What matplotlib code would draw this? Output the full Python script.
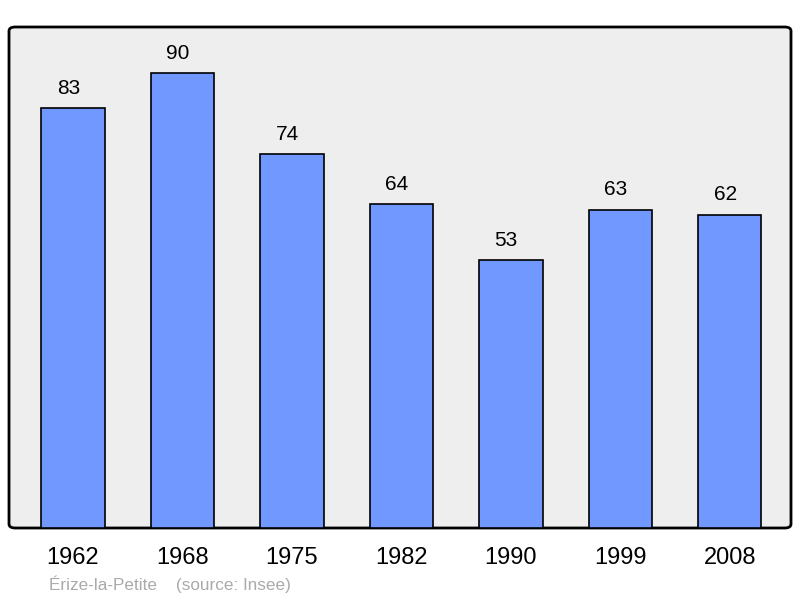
import matplotlib
matplotlib.use("Agg")
import matplotlib.pyplot as plt
from matplotlib.patches import FancyBboxPatch

years = ["1962", "1968", "1975", "1982", "1990", "1999", "2008"]
population = [83, 90, 74, 64, 53, 63, 62]

plt.rcParams["font.family"] = ["Liberation Sans", "DejaVu Sans"]

fig = plt.figure(figsize=(8, 5.98), dpi=100)
ax = fig.add_axes([9 / 800, 1 - 528 / 598, 782 / 800, 501 / 598])
ax.set_facecolor("none")

# rounded frame behind the bars
frame = FancyBboxPatch((0, 0), 1, 1,
                       boxstyle="round,pad=0,rounding_size=0.008",
                       transform=ax.transAxes, facecolor="#eeeeee",
                       edgecolor="black", linewidth=2, zorder=0,
                       clip_on=False)
ax.add_patch(frame)

x = range(len(years))
ax.bar(x, population, width=0.58, color="#7098ff", edgecolor="black",
       linewidth=1.2, zorder=2)
for xi, v in zip(x, population):
    ax.annotate(str(v), (xi, v), xytext=(-3.3, 14.2), textcoords="offset points",
                ha="center", va="center", fontsize=15)

ax.set_xlim(-0.585, 6.56)
ax.set_ylim(0, 99.1)
ax.set_xticks(list(x))
ax.set_xticklabels(years, fontsize=17)
ax.tick_params(axis="x", length=0, pad=13.5)
ax.set_yticks([])
for s in ax.spines.values():
    s.set_visible(False)

fig.text(49 / 800, 1 - 584 / 598, "Érize-la-Petite    (source: Insee)",
         color="#aaaaaa", fontsize=12.3, va="center", ha="left")

fig.savefig("out.png", dpi=100)
